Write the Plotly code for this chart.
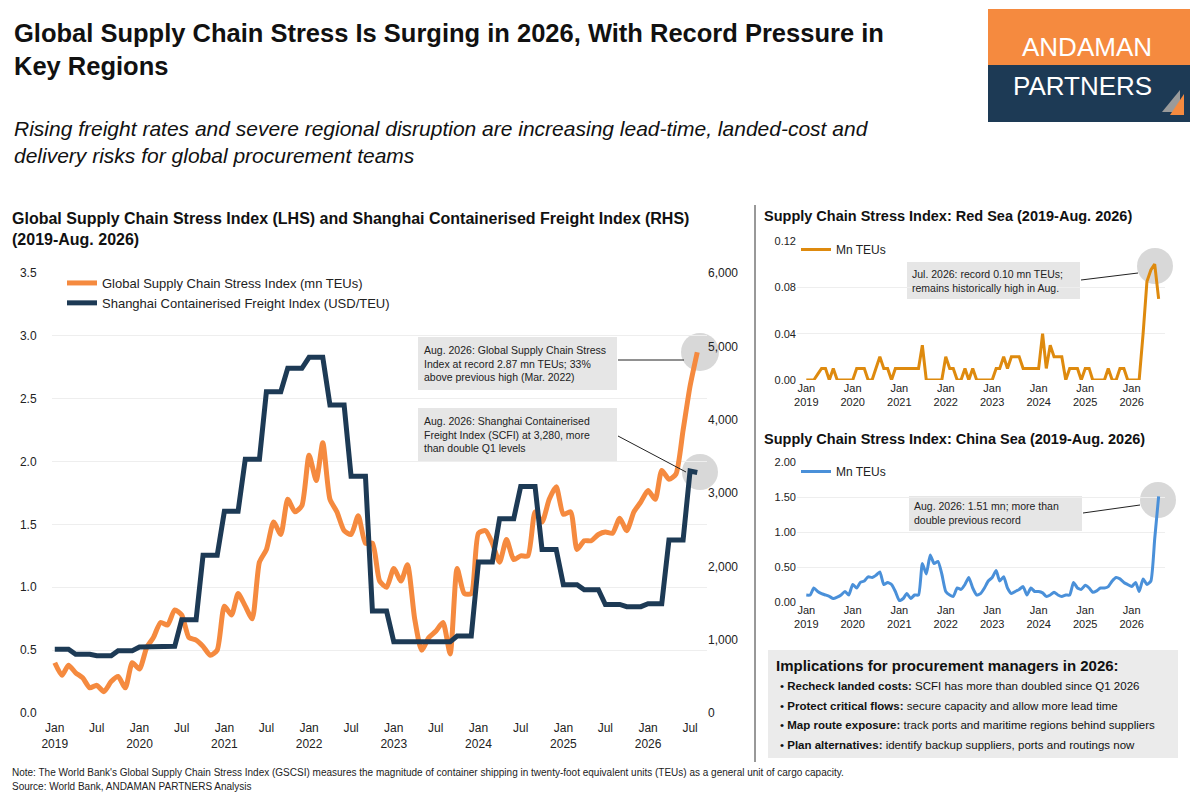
import pandas as pd
import plotly.graph_objects as go

FONT = "Liberation Sans, Arial"
ORANGE = "#F58A3F"
NAVY = "#1D3A55"
GOLD = "#DE8A0E"
BLUE = "#4A90D9"

months = pd.date_range("2019-01-01", "2026-08-01", freq="MS")

# Global Supply Chain Stress Index, mn TEUs (LHS)
gscsi = [0.40, 0.30, 0.38, 0.32, 0.28, 0.20, 0.22, 0.17, 0.25, 0.29, 0.20, 0.40,
         0.35, 0.52, 0.60, 0.72, 0.70, 0.82, 0.78, 0.60, 0.58, 0.53, 0.46, 0.50,
         0.85, 0.78, 0.95, 0.85, 0.75, 1.20, 1.30, 1.52, 1.42, 1.70, 1.60, 1.65,
         2.05, 1.85, 2.15, 1.70, 1.60, 1.45, 1.42, 1.57, 1.35, 1.35, 1.05, 1.00,
         1.15, 1.05, 1.18, 0.75, 0.50, 0.60, 0.65, 0.72, 0.47, 1.15, 0.95, 0.95,
         1.43, 1.45, 1.35, 1.20, 1.38, 1.22, 1.25, 1.25, 1.60, 1.52, 1.70, 1.80,
         1.58, 1.60, 1.30, 1.37, 1.37, 1.42, 1.44, 1.43, 1.55, 1.45, 1.60, 1.68,
         1.77, 1.70, 1.93, 1.86, 1.90, 2.25, 2.60, 2.87]

# Shanghai Containerised Freight Index, USD/TEU (RHS)
scfi = [870, 870, 870, 800, 800, 800, 780, 780, 780, 850, 850, 850,
        900, 900, 900, 910, 910, 910, 1270, 1270, 1270, 2150, 2150, 2150,
        2750, 2750, 2750, 3460, 3460, 3460, 4380, 4380, 4380, 4700, 4700, 4700,
        4850, 4850, 4850, 4200, 4200, 4200, 3230, 3230, 3230, 1390, 1390, 1390,
        970, 970, 970, 970, 970, 970, 970, 970, 970, 1050, 1050, 1050,
        2060, 2060, 2060, 2650, 2650, 2650, 3090, 3090, 3090, 2230, 2230, 2230,
        1750, 1750, 1750, 1680, 1680, 1680, 1480, 1480, 1480, 1450, 1450, 1450,
        1490, 1490, 1490, 2360, 2360, 2360, 3300, 3280]

red_sea = [0, 0, 0, 0.005, 0.01, 0.01, 0, 0.01, 0, 0, 0, 0,
           0, 0.01, 0.01, 0.01, 0, 0, 0.01, 0.02, 0.01, 0.01, 0, 0.01,
           0.01, 0.01, 0.01, 0.01, 0.01, 0.01, 0.03, 0, 0, 0, 0, 0,
           0.02, 0.01, 0.01, 0, 0, 0.01, 0, 0.01, 0, 0, 0, 0,
           0, 0.01, 0.01, 0.02, 0.01, 0.02, 0.02, 0.02, 0.01, 0.01, 0.01, 0.01,
           0.01, 0.04, 0.01, 0.03, 0.02, 0.02, 0.02, 0, 0.01, 0.01, 0.01, 0,
           0.01, 0.01, 0, 0, 0, 0, 0.01, 0, 0, 0.01, 0.01, 0,
           0, 0, 0, 0.04, 0.085, 0.095, 0.10, 0.07]

china_sea = [0.10, 0.10, 0.20, 0.15, 0.12, 0.10, 0.08, 0.05, 0.07, 0.10, 0.15, 0.10,
             0.25, 0.20, 0.28, 0.30, 0.36, 0.35, 0.38, 0.43, 0.25, 0.28, 0.25, 0.15,
             0.02, 0.05, 0.12, 0.05, 0.10, 0.10, 0.55, 0.40, 0.67, 0.55, 0.58, 0.40,
             0.15, 0.10, 0.08, 0.20, 0.18, 0.25, 0.35, 0.20, 0.10, 0.12, 0.20, 0.30,
             0.35, 0.45, 0.30, 0.36, 0.20, 0.12, 0.15, 0.18, 0.22, 0.10, 0.20, 0.15,
             0.15, 0.13, 0.08, 0.10, 0.14, 0.10, 0.08, 0.10, 0.10, 0.28, 0.20, 0.18,
             0.24, 0.20, 0.14, 0.16, 0.20, 0.20, 0.22, 0.30, 0.35, 0.33, 0.28, 0.25,
             0.22, 0.28, 0.15, 0.33, 0.25, 0.30, 0.90, 1.51]

main_ticks = pd.date_range("2019-01-01", "2026-07-01", freq="6MS")
main_ticktext = [f"Jan<br>{d.year}" if d.month == 1 else "Jul" for d in main_ticks]
small_ticks = pd.date_range("2019-01-01", "2026-01-01", freq="YS")
small_ticktext = [f"Jan<br>{d.year}" for d in small_ticks]

W, H = 1200, 800
OFF = 8  # page body margin
def px(x):
    return (x - OFF) / W
def py(y):
    return 1 - (y - OFF) / H

fig = go.Figure()
fig.add_trace(go.Scatter(x=months, y=gscsi, mode="lines", name="Global Supply Chain Stress Index (mn TEUs)",
                         line=dict(color=ORANGE, width=5, shape="spline", smoothing=0.6), legend="legend"))
fig.add_trace(go.Scatter(x=months, y=scfi, mode="lines", name="Shanghai Containerised Freight Index (USD/TEU)",
                         line=dict(color=NAVY, width=5), yaxis="y2", legend="legend"))
fig.add_trace(go.Scatter(x=months, y=red_sea, mode="lines", name="Mn TEUs", xaxis="x3", yaxis="y3",
                         line=dict(color=GOLD, width=3), legend="legend2"))
fig.add_trace(go.Scatter(x=months, y=china_sea, mode="lines", name="Mn TEUs", xaxis="x4", yaxis="y4",
                         line=dict(color=BLUE, width=3, shape="spline", smoothing=0.5), legend="legend3"))

tickfont = dict(family=FONT, size=12, color="#222")
small_font = dict(family=FONT, size=11, color="#222")
common_x = dict(type="date", showgrid=False, ticks="", showline=False, zeroline=False)
grid = "#EEEEEE"

fig.update_layout(
    width=W, height=H, margin=dict(l=0, r=0, t=0, b=0, autoexpand=False),
    paper_bgcolor="white", plot_bgcolor="white", font=dict(family=FONT, color="#222"),
    xaxis=dict(common_x, domain=[px(52), px(707)], range=["2018-12-20", "2026-09-12"],
               tickvals=main_ticks, ticktext=main_ticktext, anchor="y", tickfont=tickfont,
               ticks="outside", ticklen=4, tickcolor="rgba(0,0,0,0)"),
    yaxis=dict(domain=[py(713), py(273)], range=[0, 3.5], dtick=0.5, tickformat=".1f",
               gridcolor=grid, tickfont=tickfont, zeroline=False, ticks="outside", ticklen=12,
               tickcolor="rgba(0,0,0,0)"),
    yaxis2=dict(overlaying="y", side="right", range=[0, 6000], dtick=1000, tickformat=",",
                showgrid=False, tickfont=tickfont, zeroline=False, anchor="x"),
    xaxis3=dict(common_x, domain=[px(797), px(1165)], range=["2018-10-20", "2026-09-20"],
                tickvals=small_ticks, ticktext=small_ticktext, anchor="y3", tickfont=small_font),
    yaxis3=dict(domain=[py(380), py(241)], range=[0, 0.12], tickvals=[0, 0.04, 0.08, 0.12],
                tickformat=".2f", gridcolor=grid, anchor="x3", zeroline=False, tickfont=small_font),
    xaxis4=dict(common_x, domain=[px(797), px(1165)], range=["2018-10-20", "2026-09-20"],
                tickvals=small_ticks, ticktext=small_ticktext, anchor="y4", tickfont=small_font),
    yaxis4=dict(domain=[py(602), py(462)], range=[0, 2], tickvals=[0, 0.5, 1, 1.5, 2],
                tickformat=".2f", gridcolor=grid, anchor="x4", zeroline=False, tickfont=small_font),
    legend=dict(x=px(62), y=py(268), xanchor="left", yanchor="top", bgcolor="rgba(0,0,0,0)",
                font=dict(family=FONT, size=13), tracegroupgap=10, itemwidth=30),
    legend2=dict(x=px(796), y=py(235), xanchor="left", yanchor="top", bgcolor="rgba(0,0,0,0)",
                 font=dict(family=FONT, size=12), itemwidth=30),
    legend3=dict(x=px(796), y=py(457), xanchor="left", yanchor="top", bgcolor="rgba(0,0,0,0)",
                 font=dict(family=FONT, size=12), itemwidth=30),
)

shapes = []
ann = []

def box(x0, y0, x1, y1, color):
    shapes.append(dict(type="rect", xref="paper", yref="paper", x0=px(x0), x1=px(x1),
                       y0=py(y1), y1=py(y0), fillcolor=color, line=dict(width=0), layer="below"))

def circle(cx, cy, r):
    shapes.append(dict(type="circle", xref="paper", yref="paper", x0=px(cx - r), x1=px(cx + r),
                       y0=py(cy + r), y1=py(cy - r), fillcolor="rgba(190,190,190,0.6)", line=dict(width=0), layer="below"))

def seg(x0, y0, x1, y1, color="#222", w=1):
    shapes.append(dict(type="line", xref="paper", yref="paper", x0=px(x0), x1=px(x1),
                       y0=py(y0), y1=py(y1), line=dict(color=color, width=w)))

def text(x, y, s, size=12, bold=False, italic=False, color="#222", xanchor="left", yanchor="middle", family=FONT, align="left"):
    if bold:
        s = f"<b>{s}</b>"
    if italic:
        s = f"<i>{s}</i>"
    ann.append(dict(xref="paper", yref="paper", x=px(x), y=py(y), text=s, showarrow=False, align=align,
                    xanchor=xanchor, yanchor=yanchor, font=dict(size=size, color=color, family=family)))

# header
text(12, 50, "Global Supply Chain Stress Is Surging in 2026, With Record Pressure in<br>Key Regions",
     size=25.5, bold=True, color="#111")
text(12, 142, "Rising freight rates and severe regional disruption are increasing lead-time, landed-cost and<br>delivery risks for global procurement teams",
     size=21, italic=True, color="#111")

# logo
box(988, 9, 1190, 65, ORANGE)
box(988, 65, 1190, 122, NAVY)
text(1087, 47, "ANDAMAN", size=26, color="white", xanchor="center")
text(1082, 86, "PARTNERS", size=26, color="white", xanchor="center")
shapes.append(dict(type="path", xref="paper", yref="paper", line=dict(width=0), fillcolor="#9A9A9A",
                   path=f"M {px(1162)},{py(112)} L {px(1180)},{py(90)} L {px(1180)},{py(112)} Z"))
shapes.append(dict(type="path", xref="paper", yref="paper", line=dict(width=0), fillcolor=ORANGE,
                   path=f"M {px(1170)},{py(115)} L {px(1184)},{py(94)} L {px(1184)},{py(115)} Z"))

# panel titles
text(10, 229, "Global Supply Chain Stress Index (LHS) and Shanghai Containerised Freight Index (RHS)<br>(2019-Aug. 2026)",
     size=16, bold=True, color="#111")
text(762, 216, "Supply Chain Stress Index: Red Sea (2019-Aug. 2026)", size=14.5, bold=True, color="#111")
text(762, 439, "Supply Chain Stress Index: China Sea (2019-Aug. 2026)", size=14.5, bold=True, color="#111")
seg(755, 205, 755, 762, "#333", 1)

# main callouts
circle(700, 352, 19)
circle(700, 472, 18)
box(418, 337, 617, 390, "#E6E6E6")
text(422, 363, "Aug. 2026: Global Supply Chain Stress<br>Index at record 2.87 mn TEUs; 33%<br>above previous high (Mar. 2022)", size=10.5)
seg(618, 360, 684, 360)
box(418, 408, 617, 462, "#E6E6E6")
text(422, 435, "Aug. 2026: Shanghai Containerised<br>Freight Index (SCFI) at 3,280, more<br>than double Q1 levels", size=10.5)
seg(618, 436, 686, 472)

# red sea callout
circle(1155, 266, 18)
box(907, 262, 1080, 299, "#E6E6E6")
text(910, 281, "Jul. 2026: record 0.10 mn TEUs;<br>remains historically high in Aug.", size=10.5)
seg(1081, 280, 1138, 273)

# china sea callout
circle(1158, 500, 18)
box(909, 496, 1082, 531, "#E6E6E6")
text(912, 513, "Aug. 2026: 1.51 mn; more than<br>double previous record", size=10.5)
seg(1083, 513, 1140, 505)

# implications box
box(768, 650, 1178, 758, "#EBEBEB")
text(774, 665, "Implications for procurement managers in 2026:", size=15, bold=True, color="#111")
items = [("Recheck landed costs:", "SCFI has more than doubled since Q1 2026"),
         ("Protect critical flows:", "secure capacity and allow more lead time"),
         ("Map route exposure:", "track ports and maritime regions behind suppliers"),
         ("Plan alternatives:", "identify backup suppliers, ports and routings now")]
for i, (b, rest) in enumerate(items):
    text(778, 686 + i * 19.5, f"• <b>{b}</b> {rest}", size=11.5, color="#111")

# footer
text(10, 772, "Note: The World Bank's Global Supply Chain Stress Index (GSCSI) measures the magnitude of container shipping in twenty-foot equivalent units (TEUs) as a general unit of cargo capacity.", size=10)
text(10, 786, "Source: World Bank, ANDAMAN PARTNERS Analysis", size=10)

fig.update_layout(shapes=shapes, annotations=ann)
fig.write_html("out.html")
